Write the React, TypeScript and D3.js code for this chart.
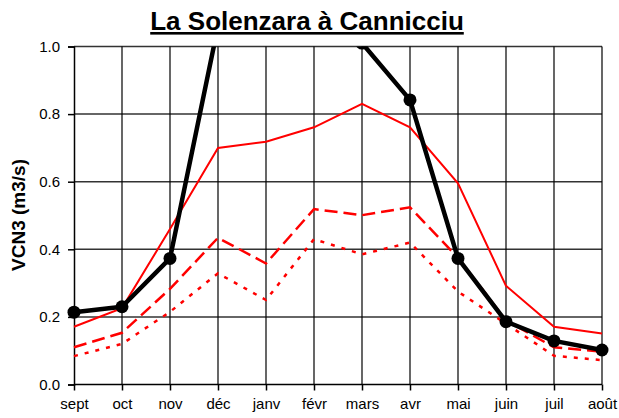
import React, { useRef, useEffect } from 'react';
import * as d3 from 'd3';

const months = ['sept', 'oct', 'nov', 'déc', 'janv', 'févr', 'mars', 'avr', 'mai', 'juin', 'juil', 'août'];
// thick black line with markers (goes off the top between nov and avr)
const blackValues = [0.214, 0.23, 0.373, 1.06, 1.35, 1.25, 1.01, 0.842, 0.373, 0.186, 0.129, 0.102];
const redSolid = [0.171, 0.226, 0.46, 0.70, 0.718, 0.761, 0.83, 0.761, 0.595, 0.292, 0.171, 0.151];
const redDashed = [0.11, 0.153, 0.283, 0.434, 0.358, 0.519, 0.501, 0.524, 0.375, 0.19, 0.11, 0.097];
const redDotted = [0.084, 0.12, 0.215, 0.329, 0.25, 0.43, 0.385, 0.42, 0.275, 0.18, 0.085, 0.072];
const yTicks = [0, 0.2, 0.4, 0.6, 0.8, 1.0];

function Chart() {
  const svgRef = useRef<SVGSVGElement>(null);

  useEffect(() => {
    document.body.style.margin = '0';
    const svg = d3.select(svgRef.current);
    svg.selectAll('*').remove();

    const width = 619;
    const height = 418;
    const margin = { top: 46.5, right: 17, bottom: 33.5, left: 74 };
    const font = 'Arial, "Liberation Sans", sans-serif';

    const x = d3.scalePoint<string>()
      .domain(months)
      .range([margin.left, width - margin.right]);

    const y = d3.scaleLinear()
      .domain([0, 1])
      .range([height - margin.bottom, margin.top]);

    svg.append('rect')
      .attr('width', width)
      .attr('height', height)
      .attr('fill', '#fff');

    // grid
    svg.append('g')
      .selectAll('line')
      .data(yTicks.slice(1))
      .join('line')
      .attr('x1', margin.left)
      .attr('x2', width - margin.right)
      .attr('y1', d => y(d))
      .attr('y2', d => y(d))
      .attr('stroke', '#333')
      .attr('stroke-width', 1.5);

    svg.append('g')
      .selectAll('line')
      .data(months.slice(1))
      .join('line')
      .attr('x1', d => x(d)!)
      .attr('x2', d => x(d)!)
      .attr('y1', margin.top)
      .attr('y2', height - margin.bottom)
      .attr('stroke', '#000')
      .attr('stroke-width', 1.2);

    // axes
    const yAxis = svg.append('g')
      .attr('transform', `translate(${margin.left},0)`)
      .call(d3.axisLeft(y).tickValues(yTicks).tickFormat(d3.format('.1f')).tickSize(6).tickPadding(8));
    yAxis.select('.domain').attr('stroke', '#000').attr('stroke-width', 1.5);
    yAxis.selectAll('line').attr('stroke', '#000').attr('stroke-width', 1.5);
    yAxis.selectAll('text').attr('font-family', font).attr('font-size', 15).attr('fill', '#000');

    const xAxis = svg.append('g')
      .attr('transform', `translate(0,${height - margin.bottom})`)
      .call(d3.axisBottom(x).tickSize(6).tickPadding(8).tickSizeOuter(0));
    xAxis.select('.domain').attr('stroke', '#000').attr('stroke-width', 1.5)
      .attr('d', `M${margin.left},0H${width - margin.right}`);
    xAxis.selectAll('line').attr('stroke', '#000').attr('stroke-width', 1.5);
    xAxis.selectAll('text').attr('font-family', font).attr('font-size', 15).attr('fill', '#000');

    svg.append('clipPath')
      .attr('id', 'plot-clip')
      .append('rect')
      .attr('x', margin.left - 10)
      .attr('y', margin.top)
      .attr('width', width - margin.left - margin.right + 20)
      .attr('height', height - margin.top - margin.bottom + 10);

    const plot = svg.append('g').attr('clip-path', 'url(#plot-clip)');

    const line = d3.line<number>()
      .x((d, i) => x(months[i])!)
      .y(d => y(d));

    plot.append('path')
      .datum(redDotted)
      .attr('d', line)
      .attr('fill', 'none')
      .attr('stroke', '#ff0000')
      .attr('stroke-width', 2.5)
      .attr('stroke-dasharray', '4,7');

    plot.append('path')
      .datum(redDashed)
      .attr('d', line)
      .attr('fill', 'none')
      .attr('stroke', '#ff0000')
      .attr('stroke-width', 2.5)
      .attr('stroke-dasharray', '13,6');

    plot.append('path')
      .datum(redSolid)
      .attr('d', line)
      .attr('fill', 'none')
      .attr('stroke', '#ff0000')
      .attr('stroke-width', 2);

    plot.append('path')
      .datum(blackValues)
      .attr('d', line)
      .attr('fill', 'none')
      .attr('stroke', '#000')
      .attr('stroke-width', 4.5)
      .attr('stroke-linejoin', 'round');

    plot.append('g')
      .selectAll('circle')
      .data(blackValues)
      .join('circle')
      .attr('cx', (d, i) => x(months[i])!)
      .attr('cy', d => y(d))
      .attr('r', 6.5)
      .attr('fill', '#000');

    svg.append('text')
      .attr('x', 307)
      .attr('y', 30)
      .attr('text-anchor', 'middle')
      .attr('font-family', font)
      .attr('font-weight', 'bold')
      .attr('font-size', 26)
      .attr('text-decoration', 'underline')
      .attr('fill', '#000')
      .text('La Solenzara à Cannicciu');

    svg.append('text')
      .attr('transform', `translate(25,215) rotate(-90)`)
      .attr('text-anchor', 'middle')
      .attr('font-family', font)
      .attr('font-weight', 'bold')
      .attr('font-size', 19)
      .attr('fill', '#000')
      .text('VCN3 (m3/s)');
  }, []);

  return <svg ref={svgRef} width={619} height={418} style={{ display: 'block' }}></svg>;
}

export default function App() {
  return <Chart />;
}
